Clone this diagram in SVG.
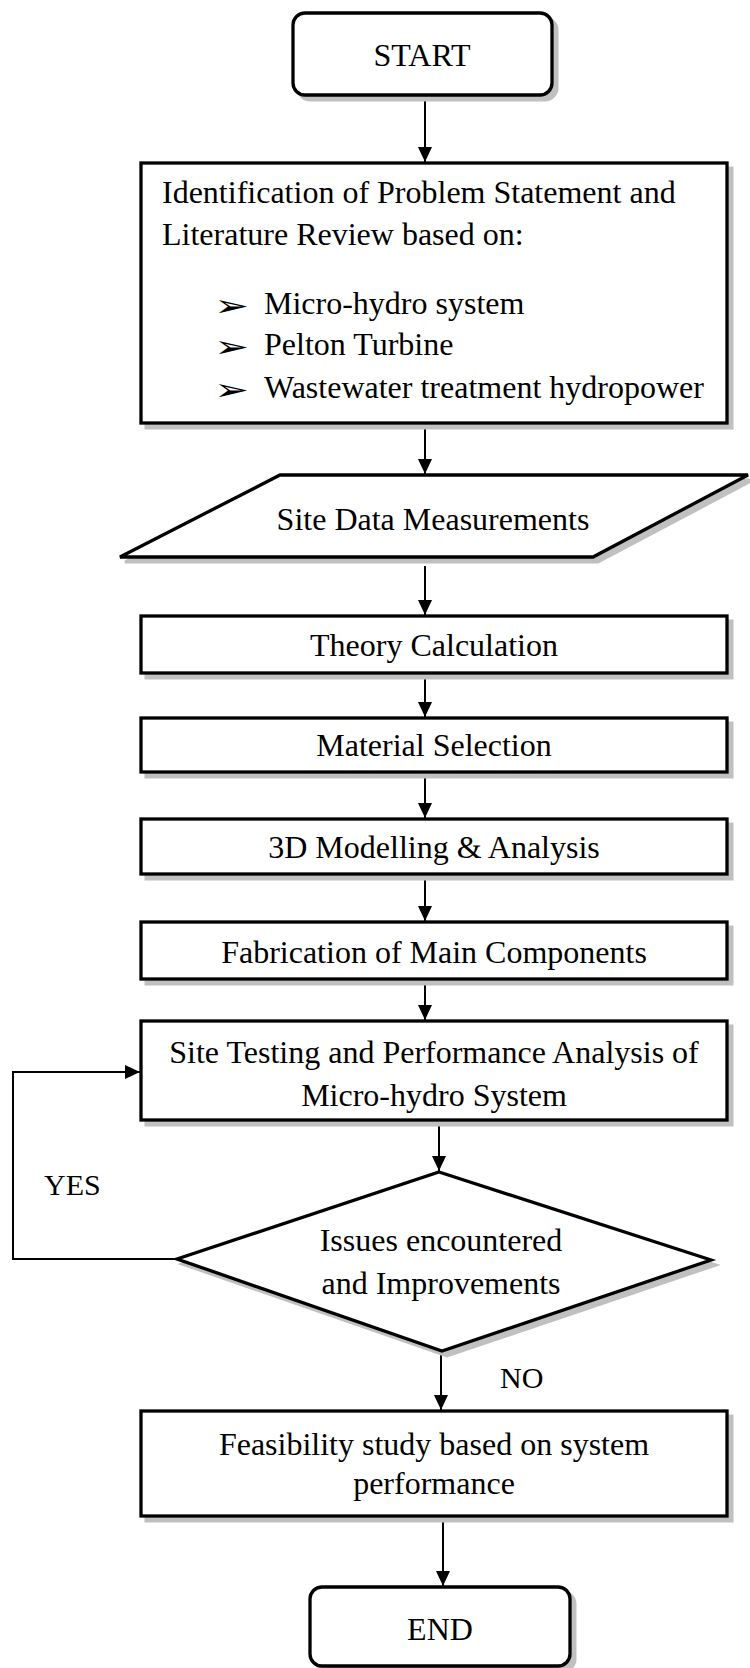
<svg xmlns="http://www.w3.org/2000/svg" width="750" height="1668" viewBox="0 0 750 1668">
<style>
.sh{fill:#c0c0c0;stroke:#c0c0c0;stroke-width:3}
.nd{fill:#fff;stroke:#000;stroke-width:3.3;stroke-linejoin:miter}
.t{font-family:"Liberation Serif","Times New Roman",serif;font-size:32px;fill:#000}
.c{text-anchor:middle}
.lbl{font-family:"Liberation Serif","Times New Roman",serif;font-size:30px;fill:#000}
.bul{font-family:"DejaVu Sans",sans-serif;font-size:30px;fill:#000}
.cn{fill:none;stroke:#000;stroke-width:2}
</style>
<defs>
<marker id="ah" markerWidth="15" markerHeight="14" refX="15" refY="7" orient="auto" markerUnits="userSpaceOnUse">
<path d="M0,0 L15,7 L0,14 z" fill="#000"/>
</marker>
</defs>
<rect width="750" height="1668" fill="#fff"/>

<g id="connectors">
<line class="cn" x1="425" y1="95" x2="425" y2="162" marker-end="url(#ah)"/>
<line class="cn" x1="425" y1="423" x2="425" y2="474" marker-end="url(#ah)"/>
<line class="cn" x1="425" y1="566" x2="425" y2="615" marker-end="url(#ah)"/>
<line class="cn" x1="425" y1="673" x2="425" y2="717" marker-end="url(#ah)"/>
<line class="cn" x1="425" y1="772" x2="425" y2="818" marker-end="url(#ah)"/>
<line class="cn" x1="425" y1="874" x2="425" y2="921" marker-end="url(#ah)"/>
<line class="cn" x1="425" y1="979" x2="425" y2="1020" marker-end="url(#ah)"/>
<line class="cn" x1="439" y1="1120" x2="439" y2="1171" marker-end="url(#ah)"/>
<polyline class="cn" points="177,1259 13,1259 13,1072 140,1072" marker-end="url(#ah)"/>
<line class="cn" x1="441" y1="1351" x2="441" y2="1410" marker-end="url(#ah)"/>
<line class="cn" x1="443" y1="1517" x2="443" y2="1586" marker-end="url(#ah)"/>
<text class="lbl" x="44" y="1195">YES</text>
<text class="lbl" x="500" y="1388">NO</text>
</g>

<g id="start">
<rect class="sh" x="298" y="18" width="259" height="82" rx="12"/>
<rect class="nd" x="293" y="13" width="259" height="82" rx="12"/>
<text class="t c" x="422" y="66">START</text>
</g>

<g id="literature">
<rect class="sh" x="146" y="168" width="586" height="260"/>
<rect class="nd" x="141" y="163" width="586" height="260"/>
<text class="t" x="162" y="203">Identification of Problem Statement and</text>
<text class="t" x="162" y="245">Literature Review based on:</text>
<text class="bul" transform="translate(214,316) scale(1.4,1)">➢</text>
<text class="t" x="264" y="314">Micro-hydro system</text>
<text class="bul" transform="translate(214,357) scale(1.4,1)">➢</text>
<text class="t" x="264" y="355">Pelton Turbine</text>
<text class="bul" transform="translate(214,400) scale(1.4,1)">➢</text>
<text class="t" x="264" y="398">Wastewater treatment hydropower</text>
</g>

<g id="site-data">
<polygon class="sh" points="285,480 753,480 598,562 125,562"/>
<polygon class="nd" points="280,475 748,475 593,557 120,557"/>
<text class="t c" x="433" y="530">Site Data Measurements</text>
</g>

<g id="theory">
<rect class="sh" x="146" y="621" width="586" height="57"/>
<rect class="nd" x="141" y="616" width="586" height="57"/>
<text class="t c" x="434" y="656">Theory Calculation</text>
</g>

<g id="material">
<rect class="sh" x="146" y="723" width="586" height="54"/>
<rect class="nd" x="141" y="718" width="586" height="54"/>
<text class="t c" x="434" y="756">Material Selection</text>
</g>

<g id="modelling">
<rect class="sh" x="146" y="824" width="586" height="55"/>
<rect class="nd" x="141" y="819" width="586" height="55"/>
<text class="t c" x="434" y="858">3D Modelling &amp; Analysis</text>
</g>

<g id="fabrication">
<rect class="sh" x="146" y="927" width="586" height="57"/>
<rect class="nd" x="141" y="922" width="586" height="57"/>
<text class="t c" x="434" y="963">Fabrication of Main Components</text>
</g>

<g id="site-testing">
<rect class="sh" x="146" y="1026" width="586" height="99"/>
<rect class="nd" x="141" y="1021" width="586" height="99"/>
<text class="t c" x="434" y="1063">Site Testing and Performance Analysis of</text>
<text class="t c" x="434" y="1106">Micro-hydro System</text>
</g>

<g id="issues">
<polygon class="sh" points="444,1177 716,1265 447,1356 182,1264"/>
<polygon class="nd" points="439,1172 711,1260 442,1351 177,1259"/>
<text class="t c" x="441" y="1251">Issues encountered</text>
<text class="t c" x="441" y="1294">and Improvements</text>
</g>

<g id="feasibility">
<rect class="sh" x="146" y="1416" width="586" height="105"/>
<rect class="nd" x="141" y="1411" width="586" height="105"/>
<text class="t c" x="434" y="1455">Feasibility study based on system</text>
<text class="t c" x="434" y="1494">performance</text>
</g>

<g id="end">
<rect class="sh" x="315" y="1592" width="260" height="79" rx="12"/>
<rect class="nd" x="310" y="1587" width="260" height="79" rx="12"/>
<text class="t c" x="440" y="1640">END</text>
</g>
</svg>
